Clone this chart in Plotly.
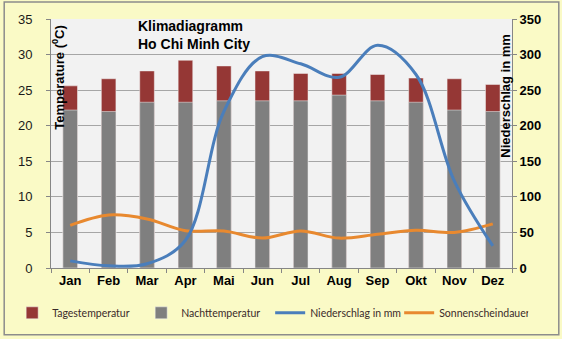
import plotly.graph_objects as go

months = ["Jan", "Feb", "Mar", "Apr", "Mai", "Jun", "Jul", "Aug", "Sep", "Okt", "Nov", "Dez"]
tagestemperatur = [25.6, 26.6, 27.7, 29.2, 28.4, 27.7, 27.35, 27.35, 27.2, 26.7, 26.6, 25.8]
nachttemperatur = [22.2, 22.0, 23.3, 23.3, 23.5, 23.5, 23.5, 24.3, 23.5, 23.3, 22.2, 22.0]
niederschlag = [10, 3, 6, 39, 220, 297, 287, 268, 313, 272, 122, 31]
sonnenschein = [6.0, 7.45, 6.9, 5.25, 5.2, 4.2, 5.2, 4.2, 4.75, 5.3, 5.0, 6.2]

L, R, T, B = 49, 50, 19, 70
W, H = 562, 339
pw, ph = W - L - R, H - T - B

fig = go.Figure()
fig.add_trace(go.Bar(x=months, y=tagestemperatur, name="Tagestemperatur",
                     marker=dict(color="#953735", line=dict(color="#f2f2f2", width=0.5)),
                     width=0.38))
fig.add_trace(go.Bar(x=months, y=nachttemperatur, name="Nachttemperatur",
                     marker=dict(color="#7f7f7f", line=dict(color="#f2f2f2", width=0.5)),
                     width=0.38))
fig.add_trace(go.Scatter(x=months, y=niederschlag, name="Niederschlag in mm", yaxis="y2",
                         mode="lines", line=dict(color="#4a7ebb", width=3, shape="spline", smoothing=1)))
fig.add_trace(go.Scatter(x=months, y=sonnenschein, name="Sonnenscheindauer",
                         mode="lines", line=dict(color="#e8892f", width=3, shape="spline", smoothing=1)))

fig.update_layout(
    width=W, height=H,
    margin=dict(l=L, r=R, t=T, b=B, pad=0),
    paper_bgcolor="#fafac6",
    plot_bgcolor="#f2f2f2",
    barmode="overlay",
    font=dict(family="Liberation Sans, Arial", color="#1a1a1a"),
    xaxis=dict(type="category", tickson="boundaries", ticks="outside", ticklen=4,
               tickcolor="#868686", showline=True, linecolor="#868686", linewidth=1,
               showgrid=False, tickfont=dict(size=13, family="Liberation Sans, Arial", color="#000", weight="bold"),
               range=[-0.5, 11.5]),
    yaxis=dict(range=[0, 35], dtick=5, ticks="outside", ticklen=4, tickcolor="#868686",
               showline=True, linecolor="#868686", linewidth=1,
               gridcolor="#a6a6a6", gridwidth=1, zeroline=False,
               ticklabelstandoff=11,
               tickfont=dict(size=13, color="#1a1a1a")),
    yaxis2=dict(range=[0, 350], dtick=50, overlaying="y", side="right",
                ticks="outside", ticklen=4, tickcolor="#868686",
                showline=True, linecolor="#868686", linewidth=1,
                showgrid=False, zeroline=False,
                tickfont=dict(size=13, color="#000", family="Liberation Sans, Arial", weight="bold")),
    legend=dict(orientation="h", x=(10 - L) / pw, xanchor="left", y=(269 - 314) / ph, yanchor="middle",
                bgcolor="rgba(0,0,0,0)", font=dict(size=10.5, family="Lato, Open Sans", color="#3a2a2a"),
                traceorder="normal", itemwidth=30, tracegroupgap=0,
                entrywidth=84, entrywidthmode="pixels"),
    showlegend=True,
)

fig.add_annotation(x=(134 - L) / pw, y=(269 - 26) / ph, xref="paper", yref="paper",
                   text="<b>Klimadiagramm</b>", showarrow=False, xanchor="left", yanchor="middle",
                   font=dict(size=14, color="#000"))
fig.add_annotation(x=(134 - L) / pw, y=(269 - 44) / ph, xref="paper", yref="paper",
                   text="<b>Ho Chi Minh City</b>", showarrow=False, xanchor="left", yanchor="middle",
                   font=dict(size=14, color="#000"))
fig.add_annotation(x=(56 - L) / pw, y=(269 - 77) / ph, xref="paper", yref="paper",
                   text="<b>Temperature (<sup>0</sup>C)</b>", textangle=-90, showarrow=False,
                   xanchor="center", yanchor="middle", font=dict(size=13, color="#000"))
fig.add_annotation(x=(506 - L) / pw, y=(269 - 96) / ph, xref="paper", yref="paper",
                   text="<b>Niederschlag in mm</b>", textangle=-90, showarrow=False,
                   xanchor="center", yanchor="middle", font=dict(size=13, color="#000"))

fig.add_shape(type="rect", xref="paper", yref="paper",
              x0=(2 - L) / pw, x1=(559 - L) / pw, y0=(269 - 336) / ph, y1=(269 - 2) / ph,
              line=dict(color="#8c8c8c", width=1.5), layer="below")

fig.write_html("out.html")
